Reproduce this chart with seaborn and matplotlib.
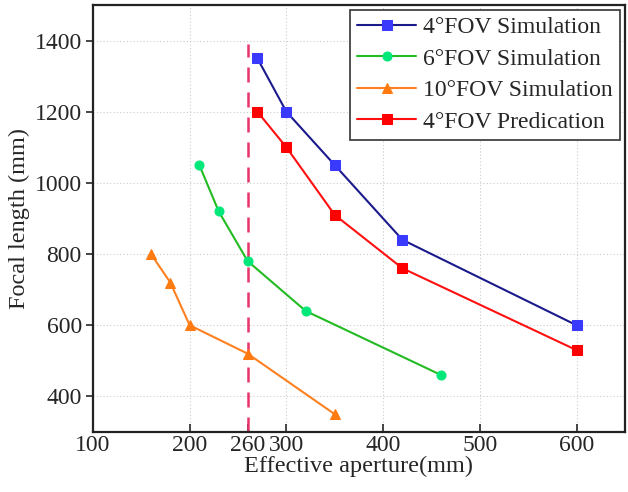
import matplotlib
matplotlib.use("Agg")
import matplotlib.pyplot as plt
import seaborn as sns
import pandas as pd

sim4_x = [270, 300, 350, 420, 600]
sim4_y = [1350, 1200, 1050, 840, 600]
sim6_x = [210, 230, 260, 320, 460]
sim6_y = [1050, 920, 780, 640, 460]
sim10_x = [160, 180, 200, 260, 350]
sim10_y = [800, 720, 600, 520, 350]
pred4_x = [270, 300, 350, 420, 600]
pred4_y = [1200, 1100, 910, 760, 530]
labels = ["4°FOV Simulation", "6°FOV Simulation", "10°FOV Simulation", "4°FOV Predication"]
x_ticks = [100, 200, 260, 300, 400, 500, 600]
y_ticks = [400, 600, 800, 1000, 1200, 1400]
cut_x = 260

sns.set_theme(style="ticks")
plt.rcParams["font.family"] = ["Liberation Serif", "DejaVu Serif"]

fig = plt.figure(figsize=(6.28, 4.92), dpi=100)
ax = fig.add_axes([0.148, 0.122, 0.847, 0.868])

series = [
    (sim4_x, sim4_y, "#1a1a8c", "#3a3aff", "s", labels[0]),
    (sim6_x, sim6_y, "#22bb22", "#00e87a", "o", labels[1]),
    (sim10_x, sim10_y, "#ff8020", "#ff7a10", "^", labels[2]),
    (pred4_x, pred4_y, "#ff1010", "#ff0000", "s", labels[3]),
]
for xs, ys, lc, mc, mk, lab in series:
    df = pd.DataFrame({"x": xs, "y": ys})
    sns.lineplot(data=df, x="x", y="y", ax=ax, color=lc, marker=mk, markersize=6.5,
                 markerfacecolor=mc, markeredgecolor=mc, linewidth=1.5, label=lab,
                 sort=False, zorder=3)

ax.vlines(cut_x, 300, 1390, colors="#e8336b", linestyles=(0, (6, 4)), linewidth=1.8, zorder=2)

ax.set_xlim(100, 650)
ax.set_ylim(300, 1500)
ax.set_xticks(x_ticks)
ax.set_yticks(y_ticks)
ax.tick_params(axis="x", direction="in", length=6, width=1.2, labelsize=17, pad=2)
ax.tick_params(axis="y", direction="out", length=5, width=1.2, labelsize=17, pad=3)
for xv in [100, 200, 300, 400, 500, 600]:
    ax.axvline(xv, color="#cccccc", linestyle=(0, (1, 2)), linewidth=0.8, zorder=0)
for yv in y_ticks:
    ax.axhline(yv, color="#cccccc", linestyle=(0, (1, 2)), linewidth=0.8, zorder=0)
for s in ax.spines.values():
    s.set_linewidth(1.6)
    s.set_color("#222222")

ax.set_xlabel("Effective aperture(mm)", fontsize=17.5, labelpad=0)
ax.set_ylabel("Focal length (mm)", fontsize=17.5, labelpad=3)

leg = ax.legend(loc="upper right", fontsize=17, frameon=True, fancybox=False,
                edgecolor="#333333", framealpha=1, handlelength=2.5, borderpad=0.3,
                labelspacing=0.42, handletextpad=0.3, borderaxespad=0.2)
leg.get_frame().set_linewidth(1.2)

fig.savefig("out.png", dpi=100)
